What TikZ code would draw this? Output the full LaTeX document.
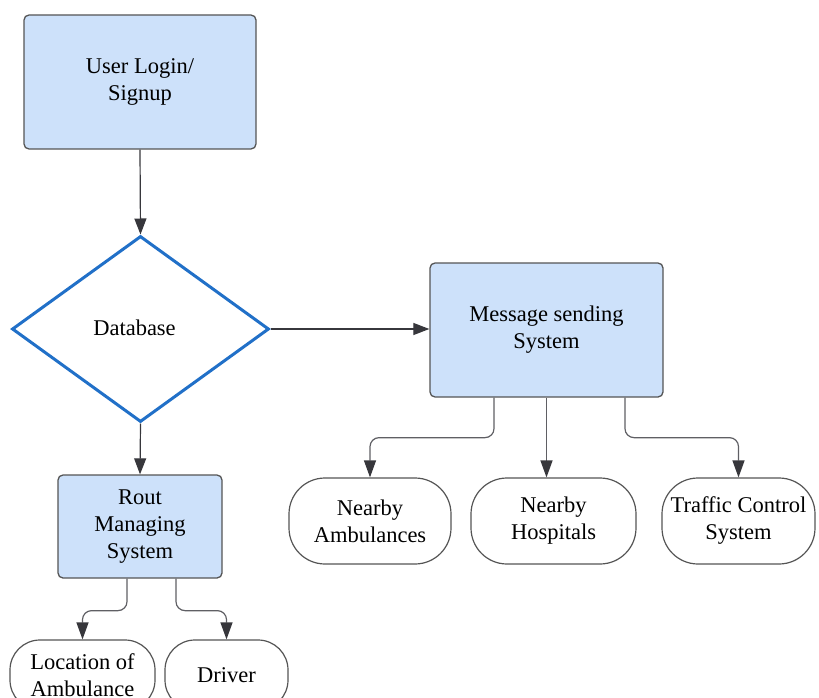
\documentclass[tikz,border=0pt]{standalone}
\usepackage{fontspec}
\setmainfont{Liberation Serif}
\usetikzlibrary{shapes.geometric,arrows.meta,calc}
\definecolor{boxfill}{RGB}{205,225,250}
\definecolor{boxline}{RGB}{85,85,85}
\definecolor{dbblue}{RGB}{33,112,200}
\definecolor{arrowc}{RGB}{55,55,60}
\definecolor{branchc}{RGB}{95,95,100}
\tikzset{
  lbl/.style={font=\fontsize{22.5}{27}\selectfont, align=center},
  procbox/.style={lbl, draw=boxline, fill=boxfill, line width=1.3pt, rounded corners=5pt, inner sep=0pt},
  termbox/.style={lbl, draw=boxline, fill=white, line width=1.2pt, rounded corners=36pt, inner sep=0pt, minimum height=86pt},
  dbnode/.style={lbl, draw=dbblue, fill=white, line width=3pt, diamond, inner sep=0pt, minimum width=257pt, minimum height=186pt},
  arr/.style={draw=arrowc, line width=1.2pt, -{Triangle[length=16pt,width=12pt]}},
  branch/.style={draw=branchc, line width=1.2pt, rounded corners=9pt, -{Triangle[length=17pt,width=12pt,color=arrowc]}}
}
\begin{document}
\begin{tikzpicture}[x=1pt,y=-1pt]
\useasboundingbox (0,0) rectangle (819,698);
\node[procbox, minimum width=232pt, minimum height=134pt] (user) at (140,82) {User Login/\\Signup};
\node[dbnode] (db) at (140.5,329) {};
\node[lbl] (dbt) at (134.5,328) {Database};
\node[procbox, minimum width=233pt, minimum height=134pt] (msg) at (546.5,330) {Message sending\\System};
\node[procbox, minimum width=164pt, minimum height=103pt] (rout) at (140,526.5) {Rout\\Managing\\System};
\node[termbox, minimum width=162pt] (amb) at (370,521) {Nearby\\Ambulances};
\node[termbox, minimum width=165pt] (hosp) at (553.5,521) {Nearby\\Hospitals};
\node[termbox, minimum width=153pt] (traf) at (738.5,521) {Traffic Control\\System};
\node[termbox, minimum width=145pt, minimum height=70pt, rounded corners=30pt] (loc) at (82.5,675) {Location of\\Ambulance};
\node[termbox, minimum width=123pt, minimum height=70pt, rounded corners=30pt] (drv) at (226.5,675) {Driver};

\draw[arr] (user.south) -- (db.north);
\draw[arr] (db.east) -- (msg.west |- db.east);
\draw[arr] (db.south) -- (rout.north);

\draw[branch] ([xshift=-52.5pt]msg.south) -- ++(0,40) -| (amb.north);
\draw[branch] (msg.south) -- (msg.south |- hosp.north);
\draw[branch] ([xshift=78.5pt]msg.south) -- ++(0,40) -| (traf.north);

\draw[branch] ([xshift=-13pt]rout.south) -- ++(0,32) -| (loc.north);
\draw[branch] ([xshift=36pt]rout.south) -- ++(0,32) -| (drv.north);
\end{tikzpicture}
\end{document}
